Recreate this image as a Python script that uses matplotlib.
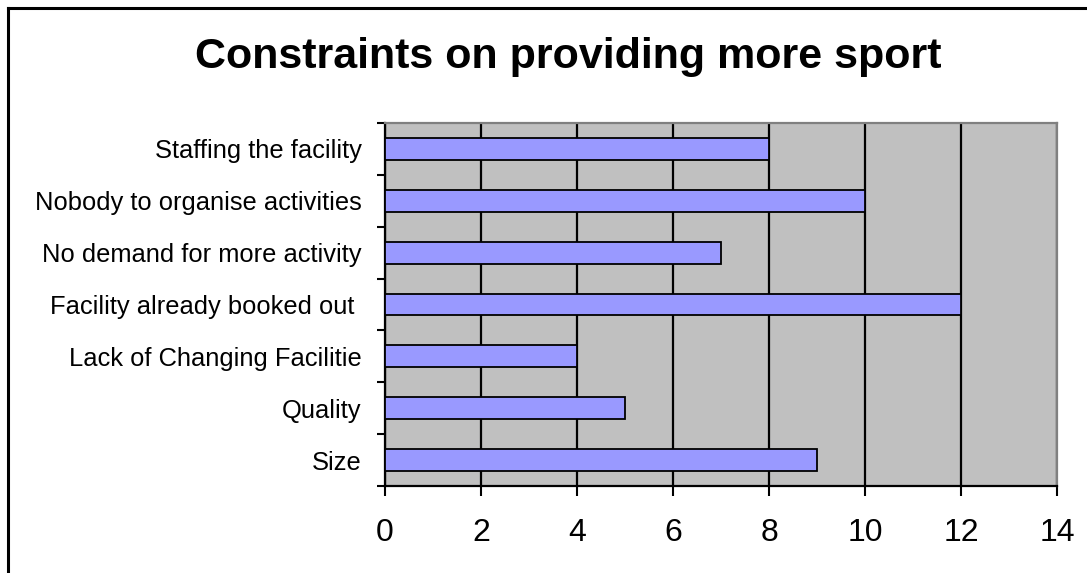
import matplotlib
matplotlib.use("Agg")
import matplotlib.pyplot as plt
from matplotlib.lines import Line2D

categories = ["Size", "Quality", "Lack of Changing Facilitie", "Facility already booked out ",
              "No demand for more activity", "Nobody to organise activities", "Staffing the facility"]
values = [9, 5, 4, 12, 7, 10, 8]
xticks = [0, 2, 4, 6, 8, 10, 12, 14]
title = "Constraints on providing more sport"

plt.rcParams['font.family'] = ['Liberation Sans', 'DejaVu Sans']

W, H = 1087, 573
fig = plt.figure(figsize=(W / 100, H / 100), dpi=100)
ax = fig.add_axes([385 / W, 1 - 486 / H, 672 / W, 363 / H])
ax.set_facecolor("#C0C0C0")

ypos = list(range(len(categories)))
ax.barh(ypos, values, height=0.42, color="#9999FF", edgecolor="black", linewidth=1.3, zorder=3)

ax.set_xlim(0, 14)
ax.set_ylim(-0.5, len(categories) - 0.5)
ax.set_xticks(xticks)
ax.set_xticklabels([str(t) for t in xticks], fontsize=23)
ax.xaxis.grid(True, color="black", linewidth=1.6, zorder=1)
ax.set_axisbelow(True)

# category labels centered; ticks at boundaries
ax.set_yticks(ypos)
ax.set_yticklabels(categories, fontsize=18.4)
ax.tick_params(axis="y", which="major", length=0, pad=17)
ax.set_yticks([i - 0.5 for i in range(len(categories) + 1)], minor=True)
ax.tick_params(axis="y", which="minor", length=6, width=1.5, color="black")
ax.tick_params(axis="x", which="major", length=7, width=1.5, pad=16)

for s in ["left", "bottom"]:
    ax.spines[s].set_color("black")
    ax.spines[s].set_linewidth(1.6)
for s in ["top", "right"]:
    ax.spines[s].set_color("#808080")
    ax.spines[s].set_linewidth(1.6)

# outer border
fig.add_artist(Line2D([7.5 / W, 7.5 / W], [0, 1 - 7.5 / H], color="black", linewidth=2.2, transform=fig.transFigure))
fig.add_artist(Line2D([7.5 / W, 1], [1 - 7.5 / H, 1 - 7.5 / H], color="black", linewidth=2.2, transform=fig.transFigure))

fig.text(568 / W, 1 - 57 / H, title, ha="center", va="center", fontsize=31, fontweight="bold")

fig.savefig("out.png", dpi=100, facecolor="white")
